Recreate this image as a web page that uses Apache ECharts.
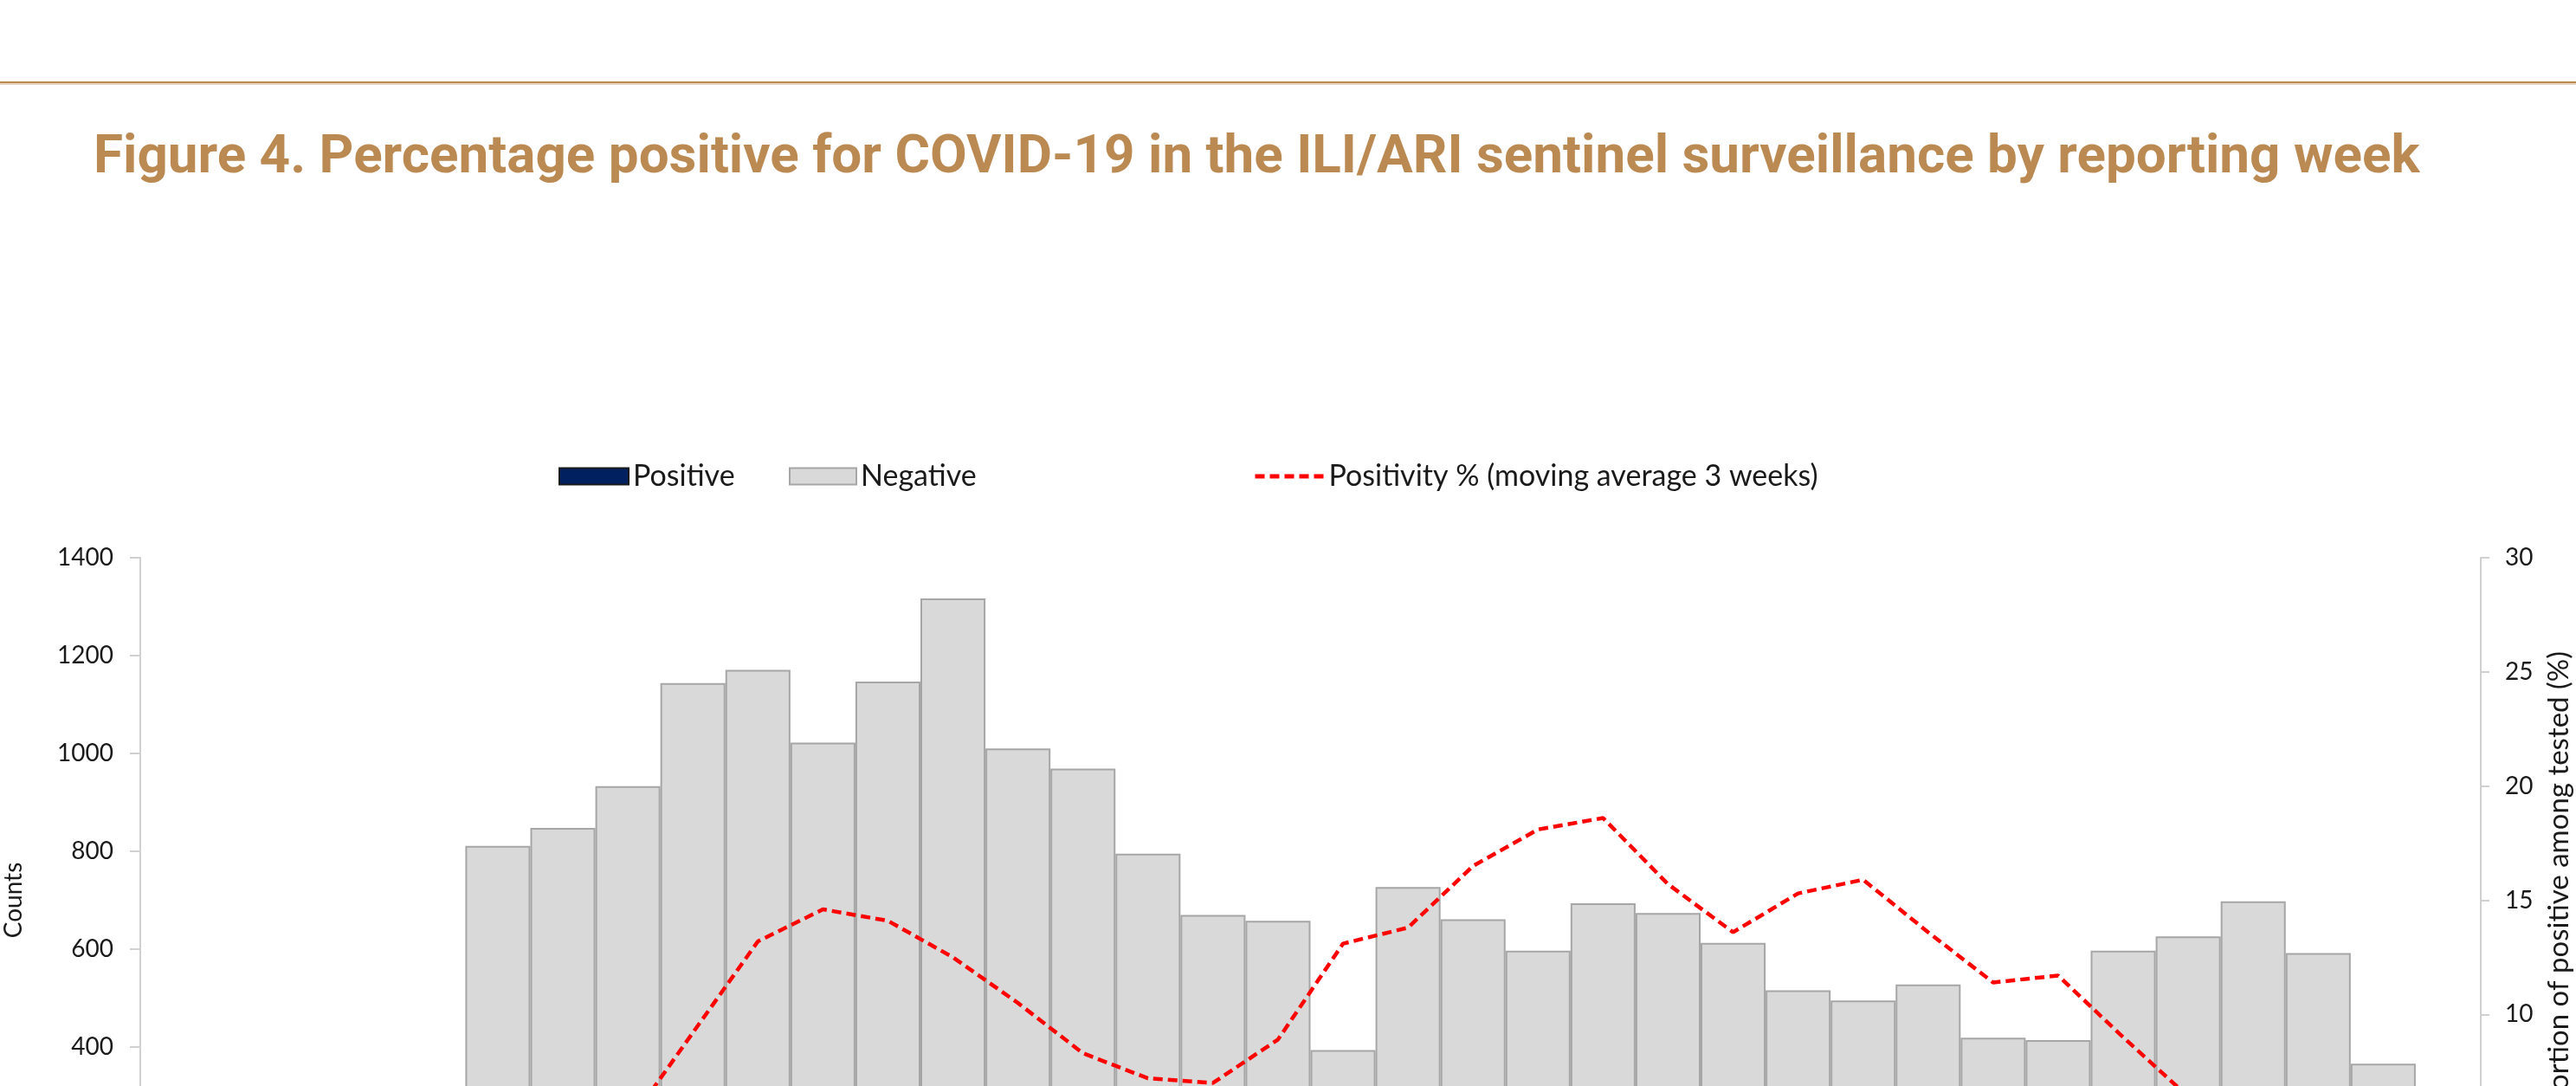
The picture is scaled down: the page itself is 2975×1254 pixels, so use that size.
<!DOCTYPE html>
<html>
<head>
<meta charset="utf-8">
<title>Figure 4</title>
<script src="https://cdn.jsdelivr.net/npm/echarts@6/dist/echarts.min.js"></script>
<style>
  html, body { margin: 0; padding: 0; background: #fff; }
  #chart { width: 2975px; height: 1254px; }
</style>
</head>
<body>
<div id="chart"></div>
<script>
  // reporting weeks (labels fall below the visible crop)
  const weeks = ['W01', 'W02', 'W03', 'W04', 'W05', 'W06', 'W07', 'W08', 'W09', 'W10', 'W11', 'W12',
    'W13', 'W14', 'W15', 'W16', 'W17', 'W18', 'W19', 'W20', 'W21', 'W22', 'W23', 'W24',
    'W25', 'W26', 'W27', 'W28', 'W29', 'W30', 'W31', 'W32', 'W33', 'W34', 'W35', 'W36'];

  // counts of positive tests
  const positive = [null, null, null, null, null,
    30, 45, 70, 120, 190, 150, 140, 150, 100, 70, 55, 45, 55, 60, 110,
    120, 115, 125, 95, 80, 80, 75, 65, 45, 45, 40, 25, 25, 20, 15, null];

  // counts of negative tests
  const negative = [null, null, null, null, null,
    781, 803, 863, 1024, 981, 872, 1007, 1167, 910, 899, 740, 625, 603, 334, 617,
    541, 482, 569, 579, 533, 436, 420, 463, 374, 369, 557, 601, 673, 572, 351, null];

  // positivity %, moving average over 3 weeks
  const positivity = [null, null, null, null, null,
    3.5, 4.5, 5.2, 9.2, 13.2, 14.6, 14.1, 12.5, 10.5, 8.3, 7.2, 7.0, 8.9, 13.1, 13.8,
    16.5, 18.1, 18.6, 15.7, 13.6, 15.3, 15.9, 13.6, 11.4, 11.7, 9.0, 6.4, 4.8, 4.0, 3.6, null];

  const countTicks = [0, 200, 400, 600, 800, 1000, 1200, 1400];
  const pctTicks = [0, 5, 10, 15, 20, 25, 30];

  const gold = '#bb8a52';
  const axisGrey = '#d0d0d0';
  const textColor = '#1a1a1a';
  const labelFont = 'Lato';
  const dash = [11, 6];

  const chart = echarts.init(document.getElementById('chart'));

  const legendText = {
    fontFamily: labelFont,
    fontSize: 34,
    color: textColor
  };

  chart.setOption({
    backgroundColor: '#fff',
    animation: false,

    title: {
      text: 'Figure 4. Percentage positive for COVID-19 in the ILI/ARI sentinel surveillance by reporting week',
      left: 108,
      top: 152,
      padding: 0,
      textStyle: {
        fontFamily: 'Roboto',
        fontWeight: 'bold',
        fontSize: 62,
        lineHeight: 62,
        color: gold
      }
    },

    // rule above the title
    graphic: [{
      type: 'rect',
      shape: { x: 0, y: 94, width: 2975, height: 2 },
      style: { fill: gold }
    }, {
      type: 'rect',
      shape: { x: 0, y: 96, width: 2975, height: 2 },
      style: { fill: '#e6d3bb' }
    }],

    legend: [{
      left: 640,
      top: 528,
      icon: 'rect',
      itemWidth: 80,
      itemHeight: 19,
      textStyle: legendText,
      data: ['Positive']
    }, {
      left: 906,
      top: 528,
      icon: 'rect',
      itemWidth: 77,
      itemHeight: 19,
      textStyle: legendText,
      data: ['Negative']
    }, {
      left: 1442,
      top: 528,
      itemWidth: 80,
      itemHeight: 19,
      textStyle: legendText,
      itemStyle: { opacity: 0 },
      lineStyle: { color: '#ff0000', width: 5, type: dash },
      data: ['Positivity % (moving average 3 weeks)']
    }],

    grid: {
      left: 162,
      right: 110,
      top: 644,
      height: 791,
      containLabel: false,
      outerBoundsMode: 'none'
    },

    xAxis: {
      type: 'category',
      data: weeks,
      axisLine: { lineStyle: { color: axisGrey, width: 2 } },
      axisTick: { show: false },
      axisLabel: { fontFamily: labelFont, fontSize: 24, color: textColor }
    },

    yAxis: [{
      type: 'value',
      min: countTicks[0],
      max: countTicks[countTicks.length - 1],
      interval: countTicks[1] - countTicks[0],
      name: 'Counts',
      nameLocation: 'middle',
      nameRotate: 90,
      nameGap: 132,
      nameTextStyle: { fontFamily: labelFont, fontSize: 28, color: textColor },
      axisLine: { show: true, lineStyle: { color: axisGrey, width: 2 } },
      axisTick: { show: true, length: 12, lineStyle: { color: axisGrey, width: 2 } },
      axisLabel: {
        margin: 31,
        fontFamily: labelFont,
        fontSize: 28,
        color: textColor,
        formatter: (v) => String(v)
      },
      splitLine: { show: false }
    }, {
      type: 'value',
      position: 'right',
      min: pctTicks[0],
      max: pctTicks[pctTicks.length - 1],
      interval: pctTicks[1] - pctTicks[0],
      name: 'Proportion of positive among tested (%)',
      nameLocation: 'middle',
      nameRotate: 90,
      nameGap: 74,
      nameTextStyle: { fontFamily: labelFont, fontSize: 33, color: textColor },
      axisLine: { show: true, lineStyle: { color: axisGrey, width: 2 } },
      axisTick: { show: true, length: 10, lineStyle: { color: axisGrey, width: 2 } },
      axisLabel: { margin: 28, fontFamily: labelFont, fontSize: 28, color: textColor },
      splitLine: { show: false }
    }],

    series: [{
      name: 'Positive',
      type: 'bar',
      stack: 'tests',
      data: positive,
      barCategoryGap: '0%',
      itemStyle: {
        color: '#002060',
        borderColor: '#1a1a1a',
        borderWidth: 1
      }
    }, {
      name: 'Negative',
      type: 'bar',
      stack: 'tests',
      data: negative,
      barCategoryGap: '0%',
      itemStyle: {
        color: '#d9d9d9',
        borderColor: '#a6a6a6',
        borderWidth: 2
      }
    }, {
      name: 'Positivity % (moving average 3 weeks)',
      type: 'line',
      yAxisIndex: 1,
      data: positivity,
      symbol: 'none',
      z: 5,
      itemStyle: { color: '#ff0000' },
      lineStyle: {
        color: '#ff0000',
        width: 4.5,
        type: dash
      }
    }]
  });
</script>
</body>
</html>
